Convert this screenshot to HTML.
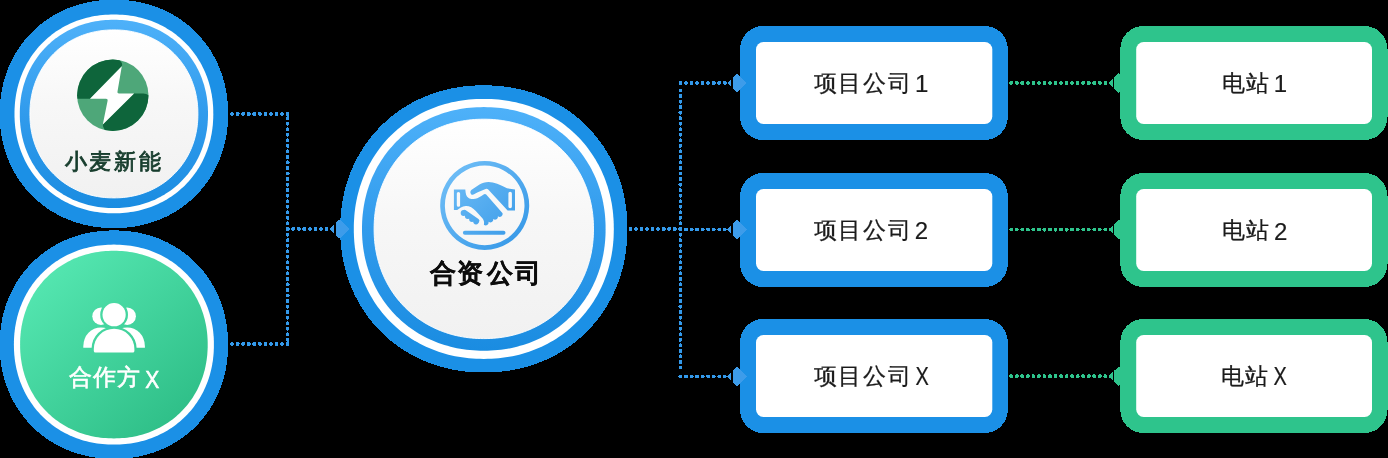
<!DOCTYPE html>
<html><head><meta charset="utf-8">
<style>
html,body{margin:0;padding:0;background:#000;width:1388px;height:458px;overflow:hidden}
svg{position:absolute;left:0;top:0;will-change:transform}
text{font-family:"Liberation Sans",sans-serif}
</style></head><body>
<svg width="1388" height="458" viewBox="0 0 1388 458">
<defs>
  <linearGradient id="lb" x1="0" y1="0" x2="0" y2="1">
    <stop offset="0" stop-color="#4eb1f9"/><stop offset="0.5" stop-color="#319bec"/><stop offset="1" stop-color="#1a8ce1"/>
  </linearGradient>
  <linearGradient id="gray" x1="0" y1="0" x2="0" y2="1">
    <stop offset="0" stop-color="#ffffff"/><stop offset="0.45" stop-color="#f7f7f7"/><stop offset="1" stop-color="#f1f1f1"/>
  </linearGradient>
  <linearGradient id="grn" x1="0.15" y1="0.1" x2="0.85" y2="0.9">
    <stop offset="0" stop-color="#54e6b0"/><stop offset="1" stop-color="#2fbf88"/>
  </linearGradient>
  <linearGradient id="icb" x1="0" y1="0" x2="1" y2="1">
    <stop offset="0" stop-color="#72c0f7"/><stop offset="1" stop-color="#3596e6"/>
  </linearGradient>
  <linearGradient id="icb2" gradientUnits="userSpaceOnUse" x1="440" y1="161" x2="529" y2="250">
    <stop offset="0" stop-color="#76c2f8"/><stop offset="1" stop-color="#3195e6"/>
  </linearGradient>
  <clipPath id="logoclip"><circle cx="112.8" cy="95.3" r="35.7"/></clipPath>
  <mask id="pmask" maskUnits="userSpaceOnUse" x="70" y="290" width="90" height="80">
    <rect x="70" y="290" width="90" height="80" fill="#fff"/>
    <circle cx="114.1" cy="314.7" r="11.6" fill="#000" stroke="#000" stroke-width="4.6"/>
    <path d="M93.8 349 A20.3 20.2 0 0 1 134.4 349 V352.6 H93.8 Z" fill="#000" stroke="#000" stroke-width="4.6"/>
  </mask>
</defs>

<!-- dotted connectors -->
<g fill="none" stroke="#3399ea" stroke-width="3.8" stroke-linecap="round" stroke-dasharray="0.2 5.336" shape-rendering="crispEdges">
  <path d="M287.6 114 H224"/>
  <path d="M287.6 344 H224"/>
  <path d="M287.6 229 V116"/>
  <path d="M287.6 229 V342"/>
  <path d="M287.6 229 H334"/>
  <path d="M680.4 229 H622"/>
  <path d="M680.4 229 V88"/>
  <path d="M680.4 229 V372"/>
  <path d="M680.4 83 H731"/>
  <path d="M680.4 229.5 H731"/>
  <path d="M680.4 376.5 H731"/>
</g>
<g fill="none" stroke="#2ec48c" stroke-width="3.8" stroke-linecap="round" stroke-dasharray="0.2 5.336" shape-rendering="crispEdges">
  <path d="M1005.6 83 H1112"/>
  <path d="M1005.6 229.6 H1112"/>
  <path d="M1005.6 376.1 H1112"/>
</g>

<!-- top-left circle -->
<path d="M228.10 113.90 L228.06 117.34 L227.95 120.59 L227.76 123.78 L227.50 126.92 L227.16 130.02 L226.75 133.09 L226.26 136.12 L225.70 139.12 L225.06 142.09 L224.36 145.03 L223.57 147.94 L222.72 150.82 L221.79 153.66 L220.80 156.47 L219.73 159.25 L218.59 161.98 L217.38 164.68 L216.11 167.34 L214.76 169.96 L213.35 172.54 L211.87 175.08 L210.33 177.57 L208.72 180.01 L207.05 182.41 L205.31 184.76 L203.51 187.06 L201.66 189.31 L199.74 191.50 L197.77 193.65 L195.74 195.74 L193.65 197.77 L191.50 199.74 L189.31 201.66 L187.06 203.51 L184.76 205.31 L182.41 207.05 L180.01 208.72 L177.57 210.33 L175.08 211.87 L172.54 213.35 L169.96 214.76 L167.34 216.11 L164.68 217.38 L161.98 218.59 L159.25 219.73 L156.47 220.80 L153.66 221.79 L150.82 222.72 L147.94 223.57 L145.03 224.36 L142.09 225.06 L139.12 225.70 L136.12 226.26 L133.09 226.75 L130.02 227.16 L126.92 227.50 L123.78 227.76 L120.59 227.95 L117.34 228.06 L113.90 228.10 L110.46 228.06 L107.21 227.95 L104.02 227.76 L100.88 227.50 L97.78 227.16 L94.71 226.75 L91.68 226.26 L88.68 225.70 L85.71 225.06 L82.77 224.36 L79.86 223.57 L76.98 222.72 L74.14 221.79 L71.33 220.80 L68.55 219.73 L65.82 218.59 L63.12 217.38 L60.46 216.11 L57.84 214.76 L55.26 213.35 L52.72 211.87 L50.23 210.33 L47.79 208.72 L45.39 207.05 L43.04 205.31 L40.74 203.51 L38.49 201.66 L36.30 199.74 L34.15 197.77 L32.06 195.74 L30.03 193.65 L28.06 191.50 L26.14 189.31 L24.29 187.06 L22.49 184.76 L20.75 182.41 L19.08 180.01 L17.47 177.57 L15.93 175.08 L14.45 172.54 L13.04 169.96 L11.69 167.34 L10.42 164.68 L9.21 161.98 L8.07 159.25 L7.00 156.47 L6.01 153.66 L5.08 150.82 L4.23 147.94 L3.44 145.03 L2.74 142.09 L2.10 139.12 L1.54 136.12 L1.05 133.09 L0.64 130.02 L0.30 126.92 L0.04 123.78 L-0.15 120.59 L-0.26 117.34 L-0.30 113.90 L-0.26 110.46 L-0.15 107.21 L0.04 104.02 L0.30 100.88 L0.64 97.78 L1.05 94.71 L1.54 91.68 L2.10 88.68 L2.74 85.71 L3.44 82.77 L4.23 79.86 L5.08 76.98 L6.01 74.14 L7.00 71.33 L8.07 68.55 L9.21 65.82 L10.42 63.12 L11.69 60.46 L13.04 57.84 L14.45 55.26 L15.93 52.72 L17.47 50.23 L19.08 47.79 L20.75 45.39 L22.49 43.04 L24.29 40.74 L26.14 38.49 L28.06 36.30 L30.03 34.15 L32.06 32.06 L34.15 30.03 L36.30 28.06 L38.49 26.14 L40.74 24.29 L43.04 22.49 L45.39 20.75 L47.79 19.08 L50.23 17.47 L52.72 15.93 L55.26 14.45 L57.84 13.04 L60.46 11.69 L63.12 10.42 L65.82 9.21 L68.55 8.07 L71.33 7.00 L74.14 6.01 L76.98 5.08 L79.86 4.23 L82.77 3.44 L85.71 2.74 L88.68 2.10 L91.68 1.54 L94.71 1.05 L97.78 0.64 L100.88 0.30 L104.02 0.04 L107.21 -0.15 L110.46 -0.26 L113.90 -0.30 L117.34 -0.26 L120.59 -0.15 L123.78 0.04 L126.92 0.30 L130.02 0.64 L133.09 1.05 L136.12 1.54 L139.12 2.10 L142.09 2.74 L145.03 3.44 L147.94 4.23 L150.82 5.08 L153.66 6.01 L156.47 7.00 L159.25 8.07 L161.98 9.21 L164.68 10.42 L167.34 11.69 L169.96 13.04 L172.54 14.45 L175.08 15.93 L177.57 17.47 L180.01 19.08 L182.41 20.75 L184.76 22.49 L187.06 24.29 L189.31 26.14 L191.50 28.06 L193.65 30.03 L195.74 32.06 L197.77 34.15 L199.74 36.30 L201.66 38.49 L203.51 40.74 L205.31 43.04 L207.05 45.39 L208.72 47.79 L210.33 50.23 L211.87 52.72 L213.35 55.26 L214.76 57.84 L216.11 60.46 L217.38 63.12 L218.59 65.82 L219.73 68.55 L220.80 71.33 L221.79 74.14 L222.72 76.98 L223.57 79.86 L224.36 82.77 L225.06 85.71 L225.70 88.68 L226.26 91.68 L226.75 94.71 L227.16 97.78 L227.50 100.88 L227.76 104.02 L227.95 107.21 L228.06 110.46Z" fill="#1b90e6" shape-rendering="crispEdges"/>
<path d="M213.30 113.90 L213.27 116.89 L213.17 119.73 L213.01 122.50 L212.78 125.23 L212.48 127.93 L212.12 130.60 L211.70 133.24 L211.21 135.85 L210.66 138.44 L210.04 141.00 L209.36 143.53 L208.62 146.04 L207.81 148.51 L206.94 150.96 L206.01 153.37 L205.02 155.75 L203.97 158.10 L202.86 160.42 L201.69 162.70 L200.46 164.94 L199.17 167.15 L197.83 169.32 L196.43 171.45 L194.97 173.53 L193.46 175.58 L191.90 177.58 L190.28 179.54 L188.62 181.45 L186.90 183.31 L185.13 185.13 L183.31 186.90 L181.45 188.62 L179.54 190.28 L177.58 191.90 L175.58 193.46 L173.53 194.97 L171.45 196.43 L169.32 197.83 L167.15 199.17 L164.94 200.46 L162.70 201.69 L160.42 202.86 L158.10 203.97 L155.75 205.02 L153.37 206.01 L150.96 206.94 L148.51 207.81 L146.04 208.62 L143.53 209.36 L141.00 210.04 L138.44 210.66 L135.85 211.21 L133.24 211.70 L130.60 212.12 L127.93 212.48 L125.23 212.78 L122.50 213.01 L119.73 213.17 L116.89 213.27 L113.90 213.30 L110.91 213.27 L108.07 213.17 L105.30 213.01 L102.57 212.78 L99.87 212.48 L97.20 212.12 L94.56 211.70 L91.95 211.21 L89.36 210.66 L86.80 210.04 L84.27 209.36 L81.76 208.62 L79.29 207.81 L76.84 206.94 L74.43 206.01 L72.05 205.02 L69.70 203.97 L67.38 202.86 L65.10 201.69 L62.86 200.46 L60.65 199.17 L58.48 197.83 L56.35 196.43 L54.27 194.97 L52.22 193.46 L50.22 191.90 L48.26 190.28 L46.35 188.62 L44.49 186.90 L42.67 185.13 L40.90 183.31 L39.18 181.45 L37.52 179.54 L35.90 177.58 L34.34 175.58 L32.83 173.53 L31.37 171.45 L29.97 169.32 L28.63 167.15 L27.34 164.94 L26.11 162.70 L24.94 160.42 L23.83 158.10 L22.78 155.75 L21.79 153.37 L20.86 150.96 L19.99 148.51 L19.18 146.04 L18.44 143.53 L17.76 141.00 L17.14 138.44 L16.59 135.85 L16.10 133.24 L15.68 130.60 L15.32 127.93 L15.02 125.23 L14.79 122.50 L14.63 119.73 L14.53 116.89 L14.50 113.90 L14.53 110.91 L14.63 108.07 L14.79 105.30 L15.02 102.57 L15.32 99.87 L15.68 97.20 L16.10 94.56 L16.59 91.95 L17.14 89.36 L17.76 86.80 L18.44 84.27 L19.18 81.76 L19.99 79.29 L20.86 76.84 L21.79 74.43 L22.78 72.05 L23.83 69.70 L24.94 67.38 L26.11 65.10 L27.34 62.86 L28.63 60.65 L29.97 58.48 L31.37 56.35 L32.83 54.27 L34.34 52.22 L35.90 50.22 L37.52 48.26 L39.18 46.35 L40.90 44.49 L42.67 42.67 L44.49 40.90 L46.35 39.18 L48.26 37.52 L50.22 35.90 L52.22 34.34 L54.27 32.83 L56.35 31.37 L58.48 29.97 L60.65 28.63 L62.86 27.34 L65.10 26.11 L67.38 24.94 L69.70 23.83 L72.05 22.78 L74.43 21.79 L76.84 20.86 L79.29 19.99 L81.76 19.18 L84.27 18.44 L86.80 17.76 L89.36 17.14 L91.95 16.59 L94.56 16.10 L97.20 15.68 L99.87 15.32 L102.57 15.02 L105.30 14.79 L108.07 14.63 L110.91 14.53 L113.90 14.50 L116.89 14.53 L119.73 14.63 L122.50 14.79 L125.23 15.02 L127.93 15.32 L130.60 15.68 L133.24 16.10 L135.85 16.59 L138.44 17.14 L141.00 17.76 L143.53 18.44 L146.04 19.18 L148.51 19.99 L150.96 20.86 L153.37 21.79 L155.75 22.78 L158.10 23.83 L160.42 24.94 L162.70 26.11 L164.94 27.34 L167.15 28.63 L169.32 29.97 L171.45 31.37 L173.53 32.83 L175.58 34.34 L177.58 35.90 L179.54 37.52 L181.45 39.18 L183.31 40.90 L185.13 42.67 L186.90 44.49 L188.62 46.35 L190.28 48.26 L191.90 50.22 L193.46 52.22 L194.97 54.27 L196.43 56.35 L197.83 58.48 L199.17 60.65 L200.46 62.86 L201.69 65.10 L202.86 67.38 L203.97 69.70 L205.02 72.05 L206.01 74.43 L206.94 76.84 L207.81 79.29 L208.62 81.76 L209.36 84.27 L210.04 86.80 L210.66 89.36 L211.21 91.95 L211.70 94.56 L212.12 97.20 L212.48 99.87 L212.78 102.57 L213.01 105.30 L213.17 108.07 L213.27 110.91Z" fill="#fff"/>
<path d="M208.00 113.90 L207.97 116.73 L207.88 119.42 L207.72 122.04 L207.50 124.63 L207.23 127.18 L206.89 129.71 L206.48 132.21 L206.02 134.68 L205.50 137.13 L204.91 139.55 L204.27 141.95 L203.57 144.32 L202.80 146.67 L201.98 148.98 L201.10 151.27 L200.16 153.52 L199.17 155.75 L198.12 157.94 L197.01 160.10 L195.85 162.22 L194.63 164.31 L193.35 166.36 L192.03 168.38 L190.65 170.35 L189.22 172.29 L187.74 174.18 L186.21 176.04 L184.63 177.85 L183.01 179.61 L181.33 181.33 L179.61 183.01 L177.85 184.63 L176.04 186.21 L174.18 187.74 L172.29 189.22 L170.35 190.65 L168.38 192.03 L166.36 193.35 L164.31 194.63 L162.22 195.85 L160.10 197.01 L157.94 198.12 L155.75 199.17 L153.52 200.16 L151.27 201.10 L148.98 201.98 L146.67 202.80 L144.32 203.57 L141.95 204.27 L139.55 204.91 L137.13 205.50 L134.68 206.02 L132.21 206.48 L129.71 206.89 L127.18 207.23 L124.63 207.50 L122.04 207.72 L119.42 207.88 L116.73 207.97 L113.90 208.00 L111.07 207.97 L108.38 207.88 L105.76 207.72 L103.17 207.50 L100.62 207.23 L98.09 206.89 L95.59 206.48 L93.12 206.02 L90.67 205.50 L88.25 204.91 L85.85 204.27 L83.48 203.57 L81.13 202.80 L78.82 201.98 L76.53 201.10 L74.28 200.16 L72.05 199.17 L69.86 198.12 L67.70 197.01 L65.58 195.85 L63.49 194.63 L61.44 193.35 L59.42 192.03 L57.45 190.65 L55.51 189.22 L53.62 187.74 L51.76 186.21 L49.95 184.63 L48.19 183.01 L46.47 181.33 L44.79 179.61 L43.17 177.85 L41.59 176.04 L40.06 174.18 L38.58 172.29 L37.15 170.35 L35.77 168.38 L34.45 166.36 L33.17 164.31 L31.95 162.22 L30.79 160.10 L29.68 157.94 L28.63 155.75 L27.64 153.52 L26.70 151.27 L25.82 148.98 L25.00 146.67 L24.23 144.32 L23.53 141.95 L22.89 139.55 L22.30 137.13 L21.78 134.68 L21.32 132.21 L20.91 129.71 L20.57 127.18 L20.30 124.63 L20.08 122.04 L19.92 119.42 L19.83 116.73 L19.80 113.90 L19.83 111.07 L19.92 108.38 L20.08 105.76 L20.30 103.17 L20.57 100.62 L20.91 98.09 L21.32 95.59 L21.78 93.12 L22.30 90.67 L22.89 88.25 L23.53 85.85 L24.23 83.48 L25.00 81.13 L25.82 78.82 L26.70 76.53 L27.64 74.28 L28.63 72.05 L29.68 69.86 L30.79 67.70 L31.95 65.58 L33.17 63.49 L34.45 61.44 L35.77 59.42 L37.15 57.45 L38.58 55.51 L40.06 53.62 L41.59 51.76 L43.17 49.95 L44.79 48.19 L46.47 46.47 L48.19 44.79 L49.95 43.17 L51.76 41.59 L53.62 40.06 L55.51 38.58 L57.45 37.15 L59.42 35.77 L61.44 34.45 L63.49 33.17 L65.58 31.95 L67.70 30.79 L69.86 29.68 L72.05 28.63 L74.28 27.64 L76.53 26.70 L78.82 25.82 L81.13 25.00 L83.48 24.23 L85.85 23.53 L88.25 22.89 L90.67 22.30 L93.12 21.78 L95.59 21.32 L98.09 20.91 L100.62 20.57 L103.17 20.30 L105.76 20.08 L108.38 19.92 L111.07 19.83 L113.90 19.80 L116.73 19.83 L119.42 19.92 L122.04 20.08 L124.63 20.30 L127.18 20.57 L129.71 20.91 L132.21 21.32 L134.68 21.78 L137.13 22.30 L139.55 22.89 L141.95 23.53 L144.32 24.23 L146.67 25.00 L148.98 25.82 L151.27 26.70 L153.52 27.64 L155.75 28.63 L157.94 29.68 L160.10 30.79 L162.22 31.95 L164.31 33.17 L166.36 34.45 L168.38 35.77 L170.35 37.15 L172.29 38.58 L174.18 40.06 L176.04 41.59 L177.85 43.17 L179.61 44.79 L181.33 46.47 L183.01 48.19 L184.63 49.95 L186.21 51.76 L187.74 53.62 L189.22 55.51 L190.65 57.45 L192.03 59.42 L193.35 61.44 L194.63 63.49 L195.85 65.58 L197.01 67.70 L198.12 69.86 L199.17 72.05 L200.16 74.28 L201.10 76.53 L201.98 78.82 L202.80 81.13 L203.57 83.48 L204.27 85.85 L204.91 88.25 L205.50 90.67 L206.02 93.12 L206.48 95.59 L206.89 98.09 L207.23 100.62 L207.50 103.17 L207.72 105.76 L207.88 108.38 L207.97 111.07Z" fill="url(#lb)"/>
<path d="M197.90 113.90 L197.87 116.43 L197.79 118.82 L197.65 121.17 L197.46 123.48 L197.21 125.76 L196.91 128.01 L196.55 130.24 L196.13 132.45 L195.67 134.64 L195.15 136.80 L194.57 138.94 L193.94 141.06 L193.26 143.15 L192.53 145.21 L191.74 147.26 L190.91 149.27 L190.02 151.25 L189.08 153.21 L188.09 155.14 L187.05 157.03 L185.96 158.90 L184.83 160.73 L183.64 162.53 L182.41 164.29 L181.14 166.02 L179.82 167.71 L178.45 169.37 L177.04 170.98 L175.59 172.56 L174.09 174.09 L172.56 175.59 L170.98 177.04 L169.37 178.45 L167.71 179.82 L166.02 181.14 L164.29 182.41 L162.53 183.64 L160.73 184.83 L158.90 185.96 L157.03 187.05 L155.14 188.09 L153.21 189.08 L151.25 190.02 L149.27 190.91 L147.26 191.74 L145.21 192.53 L143.15 193.26 L141.06 193.94 L138.94 194.57 L136.80 195.15 L134.64 195.67 L132.45 196.13 L130.24 196.55 L128.01 196.91 L125.76 197.21 L123.48 197.46 L121.17 197.65 L118.82 197.79 L116.43 197.87 L113.90 197.90 L111.37 197.87 L108.98 197.79 L106.63 197.65 L104.32 197.46 L102.04 197.21 L99.79 196.91 L97.56 196.55 L95.35 196.13 L93.16 195.67 L91.00 195.15 L88.86 194.57 L86.74 193.94 L84.65 193.26 L82.59 192.53 L80.54 191.74 L78.53 190.91 L76.55 190.02 L74.59 189.08 L72.66 188.09 L70.77 187.05 L68.90 185.96 L67.07 184.83 L65.27 183.64 L63.51 182.41 L61.78 181.14 L60.09 179.82 L58.43 178.45 L56.82 177.04 L55.24 175.59 L53.71 174.09 L52.21 172.56 L50.76 170.98 L49.35 169.37 L47.98 167.71 L46.66 166.02 L45.39 164.29 L44.16 162.53 L42.97 160.73 L41.84 158.90 L40.75 157.03 L39.71 155.14 L38.72 153.21 L37.78 151.25 L36.89 149.27 L36.06 147.26 L35.27 145.21 L34.54 143.15 L33.86 141.06 L33.23 138.94 L32.65 136.80 L32.13 134.64 L31.67 132.45 L31.25 130.24 L30.89 128.01 L30.59 125.76 L30.34 123.48 L30.15 121.17 L30.01 118.82 L29.93 116.43 L29.90 113.90 L29.93 111.37 L30.01 108.98 L30.15 106.63 L30.34 104.32 L30.59 102.04 L30.89 99.79 L31.25 97.56 L31.67 95.35 L32.13 93.16 L32.65 91.00 L33.23 88.86 L33.86 86.74 L34.54 84.65 L35.27 82.59 L36.06 80.54 L36.89 78.53 L37.78 76.55 L38.72 74.59 L39.71 72.66 L40.75 70.77 L41.84 68.90 L42.97 67.07 L44.16 65.27 L45.39 63.51 L46.66 61.78 L47.98 60.09 L49.35 58.43 L50.76 56.82 L52.21 55.24 L53.71 53.71 L55.24 52.21 L56.82 50.76 L58.43 49.35 L60.09 47.98 L61.78 46.66 L63.51 45.39 L65.27 44.16 L67.07 42.97 L68.90 41.84 L70.77 40.75 L72.66 39.71 L74.59 38.72 L76.55 37.78 L78.53 36.89 L80.54 36.06 L82.59 35.27 L84.65 34.54 L86.74 33.86 L88.86 33.23 L91.00 32.65 L93.16 32.13 L95.35 31.67 L97.56 31.25 L99.79 30.89 L102.04 30.59 L104.32 30.34 L106.63 30.15 L108.98 30.01 L111.37 29.93 L113.90 29.90 L116.43 29.93 L118.82 30.01 L121.17 30.15 L123.48 30.34 L125.76 30.59 L128.01 30.89 L130.24 31.25 L132.45 31.67 L134.64 32.13 L136.80 32.65 L138.94 33.23 L141.06 33.86 L143.15 34.54 L145.21 35.27 L147.26 36.06 L149.27 36.89 L151.25 37.78 L153.21 38.72 L155.14 39.71 L157.03 40.75 L158.90 41.84 L160.73 42.97 L162.53 44.16 L164.29 45.39 L166.02 46.66 L167.71 47.98 L169.37 49.35 L170.98 50.76 L172.56 52.21 L174.09 53.71 L175.59 55.24 L177.04 56.82 L178.45 58.43 L179.82 60.09 L181.14 61.78 L182.41 63.51 L183.64 65.27 L184.83 67.07 L185.96 68.90 L187.05 70.77 L188.09 72.66 L189.08 74.59 L190.02 76.55 L190.91 78.53 L191.74 80.54 L192.53 82.59 L193.26 84.65 L193.94 86.74 L194.57 88.86 L195.15 91.00 L195.67 93.16 L196.13 95.35 L196.55 97.56 L196.91 99.79 L197.21 102.04 L197.46 104.32 L197.65 106.63 L197.79 108.98 L197.87 111.37Z" fill="url(#gray)" stroke="#fff" stroke-width="0.9"/>

<!-- bottom-left circle -->
<path d="M228.10 344.60 L228.06 348.04 L227.95 351.29 L227.76 354.48 L227.50 357.62 L227.16 360.72 L226.75 363.79 L226.26 366.82 L225.70 369.82 L225.06 372.79 L224.36 375.73 L223.57 378.64 L222.72 381.52 L221.79 384.36 L220.80 387.17 L219.73 389.95 L218.59 392.68 L217.38 395.38 L216.11 398.04 L214.76 400.66 L213.35 403.24 L211.87 405.78 L210.33 408.27 L208.72 410.71 L207.05 413.11 L205.31 415.46 L203.51 417.76 L201.66 420.01 L199.74 422.20 L197.77 424.35 L195.74 426.44 L193.65 428.47 L191.50 430.44 L189.31 432.36 L187.06 434.21 L184.76 436.01 L182.41 437.75 L180.01 439.42 L177.57 441.03 L175.08 442.57 L172.54 444.05 L169.96 445.46 L167.34 446.81 L164.68 448.08 L161.98 449.29 L159.25 450.43 L156.47 451.50 L153.66 452.49 L150.82 453.42 L147.94 454.27 L145.03 455.06 L142.09 455.76 L139.12 456.40 L136.12 456.96 L133.09 457.45 L130.02 457.86 L126.92 458.20 L123.78 458.46 L120.59 458.65 L117.34 458.76 L113.90 458.80 L110.46 458.76 L107.21 458.65 L104.02 458.46 L100.88 458.20 L97.78 457.86 L94.71 457.45 L91.68 456.96 L88.68 456.40 L85.71 455.76 L82.77 455.06 L79.86 454.27 L76.98 453.42 L74.14 452.49 L71.33 451.50 L68.55 450.43 L65.82 449.29 L63.12 448.08 L60.46 446.81 L57.84 445.46 L55.26 444.05 L52.72 442.57 L50.23 441.03 L47.79 439.42 L45.39 437.75 L43.04 436.01 L40.74 434.21 L38.49 432.36 L36.30 430.44 L34.15 428.47 L32.06 426.44 L30.03 424.35 L28.06 422.20 L26.14 420.01 L24.29 417.76 L22.49 415.46 L20.75 413.11 L19.08 410.71 L17.47 408.27 L15.93 405.78 L14.45 403.24 L13.04 400.66 L11.69 398.04 L10.42 395.38 L9.21 392.68 L8.07 389.95 L7.00 387.17 L6.01 384.36 L5.08 381.52 L4.23 378.64 L3.44 375.73 L2.74 372.79 L2.10 369.82 L1.54 366.82 L1.05 363.79 L0.64 360.72 L0.30 357.62 L0.04 354.48 L-0.15 351.29 L-0.26 348.04 L-0.30 344.60 L-0.26 341.16 L-0.15 337.91 L0.04 334.72 L0.30 331.58 L0.64 328.48 L1.05 325.41 L1.54 322.38 L2.10 319.38 L2.74 316.41 L3.44 313.47 L4.23 310.56 L5.08 307.68 L6.01 304.84 L7.00 302.03 L8.07 299.25 L9.21 296.52 L10.42 293.82 L11.69 291.16 L13.04 288.54 L14.45 285.96 L15.93 283.42 L17.47 280.93 L19.08 278.49 L20.75 276.09 L22.49 273.74 L24.29 271.44 L26.14 269.19 L28.06 267.00 L30.03 264.85 L32.06 262.76 L34.15 260.73 L36.30 258.76 L38.49 256.84 L40.74 254.99 L43.04 253.19 L45.39 251.45 L47.79 249.78 L50.23 248.17 L52.72 246.63 L55.26 245.15 L57.84 243.74 L60.46 242.39 L63.12 241.12 L65.82 239.91 L68.55 238.77 L71.33 237.70 L74.14 236.71 L76.98 235.78 L79.86 234.93 L82.77 234.14 L85.71 233.44 L88.68 232.80 L91.68 232.24 L94.71 231.75 L97.78 231.34 L100.88 231.00 L104.02 230.74 L107.21 230.55 L110.46 230.44 L113.90 230.40 L117.34 230.44 L120.59 230.55 L123.78 230.74 L126.92 231.00 L130.02 231.34 L133.09 231.75 L136.12 232.24 L139.12 232.80 L142.09 233.44 L145.03 234.14 L147.94 234.93 L150.82 235.78 L153.66 236.71 L156.47 237.70 L159.25 238.77 L161.98 239.91 L164.68 241.12 L167.34 242.39 L169.96 243.74 L172.54 245.15 L175.08 246.63 L177.57 248.17 L180.01 249.78 L182.41 251.45 L184.76 253.19 L187.06 254.99 L189.31 256.84 L191.50 258.76 L193.65 260.73 L195.74 262.76 L197.77 264.85 L199.74 267.00 L201.66 269.19 L203.51 271.44 L205.31 273.74 L207.05 276.09 L208.72 278.49 L210.33 280.93 L211.87 283.42 L213.35 285.96 L214.76 288.54 L216.11 291.16 L217.38 293.82 L218.59 296.52 L219.73 299.25 L220.80 302.03 L221.79 304.84 L222.72 307.68 L223.57 310.56 L224.36 313.47 L225.06 316.41 L225.70 319.38 L226.26 322.38 L226.75 325.41 L227.16 328.48 L227.50 331.58 L227.76 334.72 L227.95 337.91 L228.06 341.16Z" fill="#1b90e6" shape-rendering="crispEdges"/>
<path d="M213.90 344.60 L213.87 347.61 L213.77 350.46 L213.60 353.25 L213.37 356.00 L213.08 358.72 L212.72 361.40 L212.29 364.06 L211.80 366.69 L211.24 369.29 L210.62 371.86 L209.94 374.41 L209.19 376.93 L208.38 379.42 L207.51 381.88 L206.57 384.31 L205.57 386.71 L204.52 389.07 L203.40 391.40 L202.22 393.69 L200.98 395.95 L199.69 398.17 L198.34 400.35 L196.93 402.49 L195.46 404.59 L193.94 406.65 L192.37 408.66 L190.75 410.63 L189.07 412.56 L187.34 414.43 L185.56 416.26 L183.73 418.04 L181.86 419.77 L179.93 421.45 L177.96 423.07 L175.95 424.64 L173.89 426.16 L171.79 427.63 L169.65 429.04 L167.47 430.39 L165.25 431.68 L162.99 432.92 L160.70 434.10 L158.37 435.22 L156.01 436.27 L153.61 437.27 L151.18 438.21 L148.72 439.08 L146.23 439.89 L143.71 440.64 L141.16 441.32 L138.59 441.94 L135.99 442.50 L133.36 442.99 L130.70 443.42 L128.02 443.78 L125.30 444.07 L122.55 444.30 L119.76 444.47 L116.91 444.57 L113.90 444.60 L110.89 444.57 L108.04 444.47 L105.25 444.30 L102.50 444.07 L99.78 443.78 L97.10 443.42 L94.44 442.99 L91.81 442.50 L89.21 441.94 L86.64 441.32 L84.09 440.64 L81.57 439.89 L79.08 439.08 L76.62 438.21 L74.19 437.27 L71.79 436.27 L69.43 435.22 L67.10 434.10 L64.81 432.92 L62.55 431.68 L60.33 430.39 L58.15 429.04 L56.01 427.63 L53.91 426.16 L51.85 424.64 L49.84 423.07 L47.87 421.45 L45.94 419.77 L44.07 418.04 L42.24 416.26 L40.46 414.43 L38.73 412.56 L37.05 410.63 L35.43 408.66 L33.86 406.65 L32.34 404.59 L30.87 402.49 L29.46 400.35 L28.11 398.17 L26.82 395.95 L25.58 393.69 L24.40 391.40 L23.28 389.07 L22.23 386.71 L21.23 384.31 L20.29 381.88 L19.42 379.42 L18.61 376.93 L17.86 374.41 L17.18 371.86 L16.56 369.29 L16.00 366.69 L15.51 364.06 L15.08 361.40 L14.72 358.72 L14.43 356.00 L14.20 353.25 L14.03 350.46 L13.93 347.61 L13.90 344.60 L13.93 341.59 L14.03 338.74 L14.20 335.95 L14.43 333.20 L14.72 330.48 L15.08 327.80 L15.51 325.14 L16.00 322.51 L16.56 319.91 L17.18 317.34 L17.86 314.79 L18.61 312.27 L19.42 309.78 L20.29 307.32 L21.23 304.89 L22.23 302.49 L23.28 300.13 L24.40 297.80 L25.58 295.51 L26.82 293.25 L28.11 291.03 L29.46 288.85 L30.87 286.71 L32.34 284.61 L33.86 282.55 L35.43 280.54 L37.05 278.57 L38.73 276.64 L40.46 274.77 L42.24 272.94 L44.07 271.16 L45.94 269.43 L47.87 267.75 L49.84 266.13 L51.85 264.56 L53.91 263.04 L56.01 261.57 L58.15 260.16 L60.33 258.81 L62.55 257.52 L64.81 256.28 L67.10 255.10 L69.43 253.98 L71.79 252.93 L74.19 251.93 L76.62 250.99 L79.08 250.12 L81.57 249.31 L84.09 248.56 L86.64 247.88 L89.21 247.26 L91.81 246.70 L94.44 246.21 L97.10 245.78 L99.78 245.42 L102.50 245.13 L105.25 244.90 L108.04 244.73 L110.89 244.63 L113.90 244.60 L116.91 244.63 L119.76 244.73 L122.55 244.90 L125.30 245.13 L128.02 245.42 L130.70 245.78 L133.36 246.21 L135.99 246.70 L138.59 247.26 L141.16 247.88 L143.71 248.56 L146.23 249.31 L148.72 250.12 L151.18 250.99 L153.61 251.93 L156.01 252.93 L158.37 253.98 L160.70 255.10 L162.99 256.28 L165.25 257.52 L167.47 258.81 L169.65 260.16 L171.79 261.57 L173.89 263.04 L175.95 264.56 L177.96 266.13 L179.93 267.75 L181.86 269.43 L183.73 271.16 L185.56 272.94 L187.34 274.77 L189.07 276.64 L190.75 278.57 L192.37 280.54 L193.94 282.55 L195.46 284.61 L196.93 286.71 L198.34 288.85 L199.69 291.03 L200.98 293.25 L202.22 295.51 L203.40 297.80 L204.52 300.13 L205.57 302.49 L206.57 304.89 L207.51 307.32 L208.38 309.78 L209.19 312.27 L209.94 314.79 L210.62 317.34 L211.24 319.91 L211.80 322.51 L212.29 325.14 L212.72 327.80 L213.08 330.48 L213.37 333.20 L213.60 335.95 L213.77 338.74 L213.87 341.59Z" fill="#fff"/>
<path d="M207.70 344.60 L207.67 347.42 L207.58 350.10 L207.42 352.72 L207.21 355.29 L206.93 357.84 L206.59 360.36 L206.19 362.85 L205.73 365.32 L205.21 367.76 L204.62 370.17 L203.98 372.56 L203.28 374.93 L202.52 377.26 L201.70 379.57 L200.82 381.85 L199.89 384.10 L198.90 386.31 L197.85 388.50 L196.74 390.65 L195.58 392.77 L194.37 394.85 L193.10 396.90 L191.78 398.90 L190.41 400.87 L188.98 402.80 L187.51 404.69 L185.98 406.54 L184.41 408.34 L182.79 410.10 L181.12 411.82 L179.40 413.49 L177.64 415.11 L175.84 416.68 L173.99 418.21 L172.10 419.68 L170.17 421.11 L168.20 422.48 L166.20 423.80 L164.15 425.07 L162.07 426.28 L159.95 427.44 L157.80 428.55 L155.61 429.60 L153.40 430.59 L151.15 431.52 L148.87 432.40 L146.56 433.22 L144.23 433.98 L141.86 434.68 L139.47 435.32 L137.06 435.91 L134.62 436.43 L132.15 436.89 L129.66 437.29 L127.14 437.63 L124.59 437.91 L122.02 438.12 L119.40 438.28 L116.72 438.37 L113.90 438.40 L111.08 438.37 L108.40 438.28 L105.78 438.12 L103.21 437.91 L100.66 437.63 L98.14 437.29 L95.65 436.89 L93.18 436.43 L90.74 435.91 L88.33 435.32 L85.94 434.68 L83.57 433.98 L81.24 433.22 L78.93 432.40 L76.65 431.52 L74.40 430.59 L72.19 429.60 L70.00 428.55 L67.85 427.44 L65.73 426.28 L63.65 425.07 L61.60 423.80 L59.60 422.48 L57.63 421.11 L55.70 419.68 L53.81 418.21 L51.96 416.68 L50.16 415.11 L48.40 413.49 L46.68 411.82 L45.01 410.10 L43.39 408.34 L41.82 406.54 L40.29 404.69 L38.82 402.80 L37.39 400.87 L36.02 398.90 L34.70 396.90 L33.43 394.85 L32.22 392.77 L31.06 390.65 L29.95 388.50 L28.90 386.31 L27.91 384.10 L26.98 381.85 L26.10 379.57 L25.28 377.26 L24.52 374.93 L23.82 372.56 L23.18 370.17 L22.59 367.76 L22.07 365.32 L21.61 362.85 L21.21 360.36 L20.87 357.84 L20.59 355.29 L20.38 352.72 L20.22 350.10 L20.13 347.42 L20.10 344.60 L20.13 341.78 L20.22 339.10 L20.38 336.48 L20.59 333.91 L20.87 331.36 L21.21 328.84 L21.61 326.35 L22.07 323.88 L22.59 321.44 L23.18 319.03 L23.82 316.64 L24.52 314.27 L25.28 311.94 L26.10 309.63 L26.98 307.35 L27.91 305.10 L28.90 302.89 L29.95 300.70 L31.06 298.55 L32.22 296.43 L33.43 294.35 L34.70 292.30 L36.02 290.30 L37.39 288.33 L38.82 286.40 L40.29 284.51 L41.82 282.66 L43.39 280.86 L45.01 279.10 L46.68 277.38 L48.40 275.71 L50.16 274.09 L51.96 272.52 L53.81 270.99 L55.70 269.52 L57.63 268.09 L59.60 266.72 L61.60 265.40 L63.65 264.13 L65.73 262.92 L67.85 261.76 L70.00 260.65 L72.19 259.60 L74.40 258.61 L76.65 257.68 L78.93 256.80 L81.24 255.98 L83.57 255.22 L85.94 254.52 L88.33 253.88 L90.74 253.29 L93.18 252.77 L95.65 252.31 L98.14 251.91 L100.66 251.57 L103.21 251.29 L105.78 251.08 L108.40 250.92 L111.08 250.83 L113.90 250.80 L116.72 250.83 L119.40 250.92 L122.02 251.08 L124.59 251.29 L127.14 251.57 L129.66 251.91 L132.15 252.31 L134.62 252.77 L137.06 253.29 L139.47 253.88 L141.86 254.52 L144.23 255.22 L146.56 255.98 L148.87 256.80 L151.15 257.68 L153.40 258.61 L155.61 259.60 L157.80 260.65 L159.95 261.76 L162.07 262.92 L164.15 264.13 L166.20 265.40 L168.20 266.72 L170.17 268.09 L172.10 269.52 L173.99 270.99 L175.84 272.52 L177.64 274.09 L179.40 275.71 L181.12 277.38 L182.79 279.10 L184.41 280.86 L185.98 282.66 L187.51 284.51 L188.98 286.40 L190.41 288.33 L191.78 290.30 L193.10 292.30 L194.37 294.35 L195.58 296.43 L196.74 298.55 L197.85 300.70 L198.90 302.89 L199.89 305.10 L200.82 307.35 L201.70 309.63 L202.52 311.94 L203.28 314.27 L203.98 316.64 L204.62 319.03 L205.21 321.44 L205.73 323.88 L206.19 326.35 L206.59 328.84 L206.93 331.36 L207.21 333.91 L207.42 336.48 L207.58 339.10 L207.67 341.78Z" fill="url(#grn)"/>

<!-- center circle -->
<path d="M627.40 228.90 L627.35 233.22 L627.21 237.32 L626.97 241.33 L626.64 245.27 L626.22 249.17 L625.70 253.03 L625.09 256.84 L624.38 260.62 L623.58 264.35 L622.69 268.05 L621.71 271.71 L620.64 275.33 L619.47 278.90 L618.22 282.43 L616.87 285.92 L615.44 289.36 L613.92 292.76 L612.32 296.10 L610.63 299.40 L608.85 302.64 L606.99 305.83 L605.05 308.96 L603.03 312.03 L600.93 315.05 L598.74 318.00 L596.49 320.89 L594.15 323.72 L591.74 326.48 L589.26 329.18 L586.70 331.80 L584.08 334.36 L581.38 336.84 L578.62 339.25 L575.79 341.59 L572.90 343.84 L569.95 346.03 L566.93 348.13 L563.86 350.15 L560.73 352.09 L557.54 353.95 L554.30 355.73 L551.00 357.42 L547.66 359.02 L544.26 360.54 L540.82 361.97 L537.33 363.32 L533.80 364.57 L530.23 365.74 L526.61 366.81 L522.95 367.79 L519.25 368.68 L515.52 369.48 L511.74 370.19 L507.93 370.80 L504.07 371.32 L500.17 371.74 L496.23 372.07 L492.22 372.31 L488.12 372.45 L483.80 372.50 L479.48 372.45 L475.38 372.31 L471.37 372.07 L467.43 371.74 L463.53 371.32 L459.67 370.80 L455.86 370.19 L452.08 369.48 L448.35 368.68 L444.65 367.79 L440.99 366.81 L437.37 365.74 L433.80 364.57 L430.27 363.32 L426.78 361.97 L423.34 360.54 L419.94 359.02 L416.60 357.42 L413.30 355.73 L410.06 353.95 L406.87 352.09 L403.74 350.15 L400.67 348.13 L397.65 346.03 L394.70 343.84 L391.81 341.59 L388.98 339.25 L386.22 336.84 L383.52 334.36 L380.90 331.80 L378.34 329.18 L375.86 326.48 L373.45 323.72 L371.11 320.89 L368.86 318.00 L366.67 315.05 L364.57 312.03 L362.55 308.96 L360.61 305.83 L358.75 302.64 L356.97 299.40 L355.28 296.10 L353.68 292.76 L352.16 289.36 L350.73 285.92 L349.38 282.43 L348.13 278.90 L346.96 275.33 L345.89 271.71 L344.91 268.05 L344.02 264.35 L343.22 260.62 L342.51 256.84 L341.90 253.03 L341.38 249.17 L340.96 245.27 L340.63 241.33 L340.39 237.32 L340.25 233.22 L340.20 228.90 L340.25 224.58 L340.39 220.48 L340.63 216.47 L340.96 212.53 L341.38 208.63 L341.90 204.77 L342.51 200.96 L343.22 197.18 L344.02 193.45 L344.91 189.75 L345.89 186.09 L346.96 182.47 L348.13 178.90 L349.38 175.37 L350.73 171.88 L352.16 168.44 L353.68 165.04 L355.28 161.70 L356.97 158.40 L358.75 155.16 L360.61 151.97 L362.55 148.84 L364.57 145.77 L366.67 142.75 L368.86 139.80 L371.11 136.91 L373.45 134.08 L375.86 131.32 L378.34 128.62 L380.90 126.00 L383.52 123.44 L386.22 120.96 L388.98 118.55 L391.81 116.21 L394.70 113.96 L397.65 111.77 L400.67 109.67 L403.74 107.65 L406.87 105.71 L410.06 103.85 L413.30 102.07 L416.60 100.38 L419.94 98.78 L423.34 97.26 L426.78 95.83 L430.27 94.48 L433.80 93.23 L437.37 92.06 L440.99 90.99 L444.65 90.01 L448.35 89.12 L452.08 88.32 L455.86 87.61 L459.67 87.00 L463.53 86.48 L467.43 86.06 L471.37 85.73 L475.38 85.49 L479.48 85.35 L483.80 85.30 L488.12 85.35 L492.22 85.49 L496.23 85.73 L500.17 86.06 L504.07 86.48 L507.93 87.00 L511.74 87.61 L515.52 88.32 L519.25 89.12 L522.95 90.01 L526.61 90.99 L530.23 92.06 L533.80 93.23 L537.33 94.48 L540.82 95.83 L544.26 97.26 L547.66 98.78 L551.00 100.38 L554.30 102.07 L557.54 103.85 L560.73 105.71 L563.86 107.65 L566.93 109.67 L569.95 111.77 L572.90 113.96 L575.79 116.21 L578.62 118.55 L581.38 120.96 L584.08 123.44 L586.70 126.00 L589.26 128.62 L591.74 131.32 L594.15 134.08 L596.49 136.91 L598.74 139.80 L600.93 142.75 L603.03 145.77 L605.05 148.84 L606.99 151.97 L608.85 155.16 L610.63 158.40 L612.32 161.70 L613.92 165.04 L615.44 168.44 L616.87 171.88 L618.22 175.37 L619.47 178.90 L620.64 182.47 L621.71 186.09 L622.69 189.75 L623.58 193.45 L624.38 197.18 L625.09 200.96 L625.70 204.77 L626.22 208.63 L626.64 212.53 L626.97 216.47 L627.21 220.48 L627.35 224.58Z" fill="#1b90e6" shape-rendering="crispEdges"/>
<path d="M613.80 228.90 L613.76 232.81 L613.63 236.52 L613.41 240.15 L613.12 243.72 L612.73 247.25 L612.26 250.74 L611.71 254.19 L611.07 257.61 L610.34 260.99 L609.54 264.34 L608.65 267.65 L607.68 270.93 L606.62 274.17 L605.49 277.36 L604.27 280.52 L602.97 283.64 L601.60 286.71 L600.15 289.74 L598.62 292.72 L597.01 295.66 L595.32 298.54 L593.57 301.38 L591.74 304.16 L589.83 306.89 L587.86 309.56 L585.81 312.18 L583.70 314.74 L581.52 317.24 L579.27 319.68 L576.96 322.06 L574.58 324.37 L572.14 326.62 L569.64 328.80 L567.08 330.91 L564.46 332.96 L561.79 334.93 L559.06 336.84 L556.28 338.67 L553.44 340.42 L550.56 342.11 L547.62 343.72 L544.64 345.25 L541.61 346.70 L538.54 348.07 L535.42 349.37 L532.26 350.59 L529.07 351.72 L525.83 352.78 L522.55 353.75 L519.24 354.64 L515.89 355.44 L512.51 356.17 L509.09 356.81 L505.64 357.36 L502.15 357.83 L498.62 358.22 L495.05 358.51 L491.42 358.73 L487.71 358.86 L483.80 358.90 L479.89 358.86 L476.18 358.73 L472.55 358.51 L468.98 358.22 L465.45 357.83 L461.96 357.36 L458.51 356.81 L455.09 356.17 L451.71 355.44 L448.36 354.64 L445.05 353.75 L441.77 352.78 L438.53 351.72 L435.34 350.59 L432.18 349.37 L429.06 348.07 L425.99 346.70 L422.96 345.25 L419.98 343.72 L417.04 342.11 L414.16 340.42 L411.32 338.67 L408.54 336.84 L405.81 334.93 L403.14 332.96 L400.52 330.91 L397.96 328.80 L395.46 326.62 L393.02 324.37 L390.64 322.06 L388.33 319.68 L386.08 317.24 L383.90 314.74 L381.79 312.18 L379.74 309.56 L377.77 306.89 L375.86 304.16 L374.03 301.38 L372.28 298.54 L370.59 295.66 L368.98 292.72 L367.45 289.74 L366.00 286.71 L364.63 283.64 L363.33 280.52 L362.11 277.36 L360.98 274.17 L359.92 270.93 L358.95 267.65 L358.06 264.34 L357.26 260.99 L356.53 257.61 L355.89 254.19 L355.34 250.74 L354.87 247.25 L354.48 243.72 L354.19 240.15 L353.97 236.52 L353.84 232.81 L353.80 228.90 L353.84 224.99 L353.97 221.28 L354.19 217.65 L354.48 214.08 L354.87 210.55 L355.34 207.06 L355.89 203.61 L356.53 200.19 L357.26 196.81 L358.06 193.46 L358.95 190.15 L359.92 186.87 L360.98 183.63 L362.11 180.44 L363.33 177.28 L364.63 174.16 L366.00 171.09 L367.45 168.06 L368.98 165.08 L370.59 162.14 L372.28 159.26 L374.03 156.42 L375.86 153.64 L377.77 150.91 L379.74 148.24 L381.79 145.62 L383.90 143.06 L386.08 140.56 L388.33 138.12 L390.64 135.74 L393.02 133.43 L395.46 131.18 L397.96 129.00 L400.52 126.89 L403.14 124.84 L405.81 122.87 L408.54 120.96 L411.32 119.13 L414.16 117.38 L417.04 115.69 L419.98 114.08 L422.96 112.55 L425.99 111.10 L429.06 109.73 L432.18 108.43 L435.34 107.21 L438.53 106.08 L441.77 105.02 L445.05 104.05 L448.36 103.16 L451.71 102.36 L455.09 101.63 L458.51 100.99 L461.96 100.44 L465.45 99.97 L468.98 99.58 L472.55 99.29 L476.18 99.07 L479.89 98.94 L483.80 98.90 L487.71 98.94 L491.42 99.07 L495.05 99.29 L498.62 99.58 L502.15 99.97 L505.64 100.44 L509.09 100.99 L512.51 101.63 L515.89 102.36 L519.24 103.16 L522.55 104.05 L525.83 105.02 L529.07 106.08 L532.26 107.21 L535.42 108.43 L538.54 109.73 L541.61 111.10 L544.64 112.55 L547.62 114.08 L550.56 115.69 L553.44 117.38 L556.28 119.13 L559.06 120.96 L561.79 122.87 L564.46 124.84 L567.08 126.89 L569.64 129.00 L572.14 131.18 L574.58 133.43 L576.96 135.74 L579.27 138.12 L581.52 140.56 L583.70 143.06 L585.81 145.62 L587.86 148.24 L589.83 150.91 L591.74 153.64 L593.57 156.42 L595.32 159.26 L597.01 162.14 L598.62 165.08 L600.15 168.06 L601.60 171.09 L602.97 174.16 L604.27 177.28 L605.49 180.44 L606.62 183.63 L607.68 186.87 L608.65 190.15 L609.54 193.46 L610.34 196.81 L611.07 200.19 L611.71 203.61 L612.26 207.06 L612.73 210.55 L613.12 214.08 L613.41 217.65 L613.63 221.28 L613.76 224.99Z" fill="#fff"/>
<path d="M605.60 228.90 L605.56 232.57 L605.44 236.04 L605.24 239.44 L604.96 242.79 L604.60 246.09 L604.16 249.36 L603.64 252.60 L603.04 255.80 L602.36 258.97 L601.61 262.11 L600.77 265.21 L599.86 268.28 L598.87 271.31 L597.81 274.31 L596.67 277.27 L595.46 280.18 L594.17 283.06 L592.81 285.90 L591.37 288.70 L589.87 291.45 L588.29 294.15 L586.64 296.81 L584.93 299.41 L583.14 301.97 L581.29 304.48 L579.38 306.93 L577.40 309.33 L575.35 311.67 L573.25 313.95 L571.08 316.18 L568.85 318.35 L566.57 320.45 L564.23 322.50 L561.83 324.48 L559.38 326.39 L556.87 328.24 L554.31 330.03 L551.71 331.74 L549.05 333.39 L546.35 334.97 L543.60 336.47 L540.80 337.91 L537.96 339.27 L535.08 340.56 L532.17 341.77 L529.21 342.91 L526.21 343.97 L523.18 344.96 L520.11 345.87 L517.01 346.71 L513.87 347.46 L510.70 348.14 L507.50 348.74 L504.26 349.26 L500.99 349.70 L497.69 350.06 L494.34 350.34 L490.94 350.54 L487.47 350.66 L483.80 350.70 L480.13 350.66 L476.66 350.54 L473.26 350.34 L469.91 350.06 L466.61 349.70 L463.34 349.26 L460.10 348.74 L456.90 348.14 L453.73 347.46 L450.59 346.71 L447.49 345.87 L444.42 344.96 L441.39 343.97 L438.39 342.91 L435.43 341.77 L432.52 340.56 L429.64 339.27 L426.80 337.91 L424.00 336.47 L421.25 334.97 L418.55 333.39 L415.89 331.74 L413.29 330.03 L410.73 328.24 L408.22 326.39 L405.77 324.48 L403.37 322.50 L401.03 320.45 L398.75 318.35 L396.52 316.18 L394.35 313.95 L392.25 311.67 L390.20 309.33 L388.22 306.93 L386.31 304.48 L384.46 301.97 L382.67 299.41 L380.96 296.81 L379.31 294.15 L377.73 291.45 L376.23 288.70 L374.79 285.90 L373.43 283.06 L372.14 280.18 L370.93 277.27 L369.79 274.31 L368.73 271.31 L367.74 268.28 L366.83 265.21 L365.99 262.11 L365.24 258.97 L364.56 255.80 L363.96 252.60 L363.44 249.36 L363.00 246.09 L362.64 242.79 L362.36 239.44 L362.16 236.04 L362.04 232.57 L362.00 228.90 L362.04 225.23 L362.16 221.76 L362.36 218.36 L362.64 215.01 L363.00 211.71 L363.44 208.44 L363.96 205.20 L364.56 202.00 L365.24 198.83 L365.99 195.69 L366.83 192.59 L367.74 189.52 L368.73 186.49 L369.79 183.49 L370.93 180.53 L372.14 177.62 L373.43 174.74 L374.79 171.90 L376.23 169.10 L377.73 166.35 L379.31 163.65 L380.96 160.99 L382.67 158.39 L384.46 155.83 L386.31 153.32 L388.22 150.87 L390.20 148.47 L392.25 146.13 L394.35 143.85 L396.52 141.62 L398.75 139.45 L401.03 137.35 L403.37 135.30 L405.77 133.32 L408.22 131.41 L410.73 129.56 L413.29 127.77 L415.89 126.06 L418.55 124.41 L421.25 122.83 L424.00 121.33 L426.80 119.89 L429.64 118.53 L432.52 117.24 L435.43 116.03 L438.39 114.89 L441.39 113.83 L444.42 112.84 L447.49 111.93 L450.59 111.09 L453.73 110.34 L456.90 109.66 L460.10 109.06 L463.34 108.54 L466.61 108.10 L469.91 107.74 L473.26 107.46 L476.66 107.26 L480.13 107.14 L483.80 107.10 L487.47 107.14 L490.94 107.26 L494.34 107.46 L497.69 107.74 L500.99 108.10 L504.26 108.54 L507.50 109.06 L510.70 109.66 L513.87 110.34 L517.01 111.09 L520.11 111.93 L523.18 112.84 L526.21 113.83 L529.21 114.89 L532.17 116.03 L535.08 117.24 L537.96 118.53 L540.80 119.89 L543.60 121.33 L546.35 122.83 L549.05 124.41 L551.71 126.06 L554.31 127.77 L556.87 129.56 L559.38 131.41 L561.83 133.32 L564.23 135.30 L566.57 137.35 L568.85 139.45 L571.08 141.62 L573.25 143.85 L575.35 146.13 L577.40 148.47 L579.38 150.87 L581.29 153.32 L583.14 155.83 L584.93 158.39 L586.64 160.99 L588.29 163.65 L589.87 166.35 L591.37 169.10 L592.81 171.90 L594.17 174.74 L595.46 177.62 L596.67 180.53 L597.81 183.49 L598.87 186.49 L599.86 189.52 L600.77 192.59 L601.61 195.69 L602.36 198.83 L603.04 202.00 L603.64 205.20 L604.16 208.44 L604.60 211.71 L604.96 215.01 L605.24 218.36 L605.44 221.76 L605.56 225.23Z" fill="url(#lb)"/>
<path d="M593.50 228.90 L593.46 232.20 L593.36 235.33 L593.17 238.39 L592.92 241.41 L592.60 244.39 L592.20 247.33 L591.73 250.24 L591.19 253.13 L590.58 255.98 L589.90 258.81 L589.15 261.60 L588.33 264.37 L587.44 267.10 L586.48 269.80 L585.46 272.46 L584.37 275.09 L583.20 277.68 L581.98 280.24 L580.69 282.76 L579.33 285.23 L577.91 287.67 L576.43 290.06 L574.88 292.41 L573.28 294.71 L571.61 296.97 L569.88 299.18 L568.10 301.34 L566.26 303.45 L564.36 305.50 L562.41 307.51 L560.40 309.46 L558.35 311.36 L556.24 313.20 L554.08 314.98 L551.87 316.71 L549.61 318.38 L547.31 319.98 L544.96 321.53 L542.57 323.01 L540.13 324.43 L537.66 325.79 L535.14 327.08 L532.58 328.30 L529.99 329.47 L527.36 330.56 L524.70 331.58 L522.00 332.54 L519.27 333.43 L516.50 334.25 L513.71 335.00 L510.88 335.68 L508.03 336.29 L505.14 336.83 L502.23 337.30 L499.29 337.70 L496.31 338.02 L493.29 338.27 L490.23 338.46 L487.10 338.56 L483.80 338.60 L480.50 338.56 L477.37 338.46 L474.31 338.27 L471.29 338.02 L468.31 337.70 L465.37 337.30 L462.46 336.83 L459.57 336.29 L456.72 335.68 L453.89 335.00 L451.10 334.25 L448.33 333.43 L445.60 332.54 L442.90 331.58 L440.24 330.56 L437.61 329.47 L435.02 328.30 L432.46 327.08 L429.94 325.79 L427.47 324.43 L425.03 323.01 L422.64 321.53 L420.29 319.98 L417.99 318.38 L415.73 316.71 L413.52 314.98 L411.36 313.20 L409.25 311.36 L407.20 309.46 L405.19 307.51 L403.24 305.50 L401.34 303.45 L399.50 301.34 L397.72 299.18 L395.99 296.97 L394.32 294.71 L392.72 292.41 L391.17 290.06 L389.69 287.67 L388.27 285.23 L386.91 282.76 L385.62 280.24 L384.40 277.68 L383.23 275.09 L382.14 272.46 L381.12 269.80 L380.16 267.10 L379.27 264.37 L378.45 261.60 L377.70 258.81 L377.02 255.98 L376.41 253.13 L375.87 250.24 L375.40 247.33 L375.00 244.39 L374.68 241.41 L374.43 238.39 L374.24 235.33 L374.14 232.20 L374.10 228.90 L374.14 225.60 L374.24 222.47 L374.43 219.41 L374.68 216.39 L375.00 213.41 L375.40 210.47 L375.87 207.56 L376.41 204.67 L377.02 201.82 L377.70 198.99 L378.45 196.20 L379.27 193.43 L380.16 190.70 L381.12 188.00 L382.14 185.34 L383.23 182.71 L384.40 180.12 L385.62 177.56 L386.91 175.04 L388.27 172.57 L389.69 170.13 L391.17 167.74 L392.72 165.39 L394.32 163.09 L395.99 160.83 L397.72 158.62 L399.50 156.46 L401.34 154.35 L403.24 152.30 L405.19 150.29 L407.20 148.34 L409.25 146.44 L411.36 144.60 L413.52 142.82 L415.73 141.09 L417.99 139.42 L420.29 137.82 L422.64 136.27 L425.03 134.79 L427.47 133.37 L429.94 132.01 L432.46 130.72 L435.02 129.50 L437.61 128.33 L440.24 127.24 L442.90 126.22 L445.60 125.26 L448.33 124.37 L451.10 123.55 L453.89 122.80 L456.72 122.12 L459.57 121.51 L462.46 120.97 L465.37 120.50 L468.31 120.10 L471.29 119.78 L474.31 119.53 L477.37 119.34 L480.50 119.24 L483.80 119.20 L487.10 119.24 L490.23 119.34 L493.29 119.53 L496.31 119.78 L499.29 120.10 L502.23 120.50 L505.14 120.97 L508.03 121.51 L510.88 122.12 L513.71 122.80 L516.50 123.55 L519.27 124.37 L522.00 125.26 L524.70 126.22 L527.36 127.24 L529.99 128.33 L532.58 129.50 L535.14 130.72 L537.66 132.01 L540.13 133.37 L542.57 134.79 L544.96 136.27 L547.31 137.82 L549.61 139.42 L551.87 141.09 L554.08 142.82 L556.24 144.60 L558.35 146.44 L560.40 148.34 L562.41 150.29 L564.36 152.30 L566.26 154.35 L568.10 156.46 L569.88 158.62 L571.61 160.83 L573.28 163.09 L574.88 165.39 L576.43 167.74 L577.91 170.13 L579.33 172.57 L580.69 175.04 L581.98 177.56 L583.20 180.12 L584.37 182.71 L585.46 185.34 L586.48 188.00 L587.44 190.70 L588.33 193.43 L589.15 196.20 L589.90 198.99 L590.58 201.82 L591.19 204.67 L591.73 207.56 L592.20 210.47 L592.60 213.41 L592.92 216.39 L593.17 219.41 L593.36 222.47 L593.46 225.60Z" fill="url(#gray)" stroke="#fff" stroke-width="0.9"/>

<!-- boxes -->
<g fill="#1b90e6" shape-rendering="crispEdges">
  <rect x="740.1" y="26" width="267.7" height="114" rx="23"/>
  <rect x="740.1" y="173" width="267.7" height="114" rx="23"/>
  <rect x="740.1" y="319" width="267.7" height="114" rx="23"/>
</g>
<g fill="#2ec48c" shape-rendering="crispEdges">
  <rect x="1120.3" y="26" width="267.2" height="114" rx="23"/>
  <rect x="1120.3" y="173" width="267.2" height="114" rx="23"/>
  <rect x="1120.3" y="319" width="267.2" height="114" rx="23"/>
</g>
<g fill="#fff">
  <rect x="756" y="42" width="236.3" height="82" rx="7.5"/>
  <rect x="756" y="189" width="236.3" height="82" rx="7.5"/>
  <rect x="756" y="335" width="236.3" height="82" rx="7.5"/>
  <rect x="1136.2" y="42" width="235.8" height="82" rx="7.5"/>
  <rect x="1136.2" y="189" width="235.8" height="82" rx="7.5"/>
  <rect x="1136.2" y="335" width="235.8" height="82" rx="7.5"/>
</g>

<!-- arrow diamonds -->
<g fill="#3d9cea" shape-rendering="crispEdges">
  <path d="M329.5 229 L339.5 219.5 L349.5 229 L339.5 238.5 Z"/>
  <path d="M727 83 L737 73.5 L747 83 L737 92.5 Z"/>
  <path d="M727 229.5 L737 220 L747 229.5 L737 239 Z"/>
  <path d="M727 376.5 L737 367 L747 376.5 L737 386 Z"/>
</g>
<g fill="#2ec48c" shape-rendering="crispEdges">
  <path d="M1108.8 83 L1118.8 73.2 L1128.8 83 L1118.8 92.8 Z"/>
  <path d="M1108.8 229.6 L1118.8 219.8 L1128.8 229.6 L1118.8 239.4 Z"/>
  <path d="M1108.8 376.1 L1118.8 366.3 L1128.8 376.1 L1118.8 385.9 Z"/>
</g>
<g fill="#000" shape-rendering="crispEdges">
  <rect x="334" y="218" width="1.8" height="22"/>
  <rect x="731.3" y="72" width="1.8" height="22"/>
  <rect x="731.3" y="218.5" width="1.8" height="22"/>
  <rect x="731.3" y="365.5" width="1.8" height="22"/>
  <rect x="1113.1" y="72" width="1.1" height="22"/>
  <rect x="1113.1" y="218.5" width="1.1" height="22"/>
  <rect x="1113.1" y="365" width="1.1" height="22"/>
</g>

<!-- logo -->
<g clip-path="url(#logoclip)">
  <rect x="74" y="56" width="80" height="80" fill="#4ea779"/>
  <path d="M70 98.8 H90 L121.7 66.3 C122.8 64.6 121.8 62.4 119.8 60.6 L116 56 H70 Z" fill="#0e653b"/>
  <path d="M134 93.6 H143.4 C146 93.6 148.5 95 151 97.5 V136 H108 L104 128.5 C103.2 127.2 102.8 125.8 102.8 124.5 Z" fill="#0e653b"/>
</g>
<path d="M121.8 66.2 L90 98.8 H106 C107.3 98.8 107.8 99.6 107.6 100.8 L102.8 124.6 L134.1 93.6 H119 C117.8 93.6 117.3 92.8 117.5 91.6 Z" fill="#fff"/>

<!-- people icon -->
<g fill="#fff">
  <g mask="url(#pmask)">
    <circle cx="101" cy="316.2" r="8.7"/>
    <circle cx="127.2" cy="316.2" r="8.7"/>
    <path d="M83.3 346 A17.7 18.6 0 0 1 118.7 346 V347.8 H83.3 Z"/>
    <path d="M109.5 346 A17.7 18.6 0 0 1 144.9 346 V347.8 H109.5 Z"/>
  </g>
  <circle cx="114.1" cy="314.7" r="11.6"/>
  <path d="M93.8 349 A20.3 20.2 0 0 1 134.4 349 V351 Q134.4 352.6 132.8 352.6 H95.4 Q93.8 352.6 93.8 351 Z"/>
</g>

<!-- handshake icon -->
<path d="M484.7 163.25 A42.15 42.15 0 1 1 484.69 163.25 Z" fill="none" stroke="url(#icb2)" stroke-width="4.7"/>
<g fill="url(#icb2)">
  <path fill-rule="evenodd" d="M453.9 189.5 H465.3 C465.6 193.5 466.2 196.5 468.3 197.8 C470 199 471.6 199.2 473.4 199.1 C476 198.9 478.5 197.8 481 196.2 L484 194.3 Q485.3 193.6 486.2 194.6 L502.6 213.3 A2.9 2.9 0 0 1 497.9 216.15 A2.9 2.9 0 0 1 493.25 219 A2.9 2.9 0 0 1 488.6 221.85 A2.9 2.9 0 0 1 483.9 224.7 C484.4 222.5 484 220.4 482.6 218.6 L475.8 211 C472.8 207.6 469.6 205.8 465.7 205.9 C462 206 459.5 208.2 457.2 210.1 H453.9 Z M456.8 193.6 A1.65 1.65 0 0 1 460.1 193.6 V205.2 A1.65 1.65 0 0 1 456.8 205.2 Z"/>
  <path fill-rule="evenodd" d="M470.5 192.9 C470.1 191.5 470.7 190.3 472 189.4 L479.5 184.6 C482 183.2 485 182.1 488.6 182.1 C494 182.1 500 184.5 507 188.3 L515 189.5 V210.5 H507.6 L488.2 189.4 Q487.2 188.3 485.6 188.9 L479 191.7 C476.5 192.8 475 193.7 473.4 194.6 C472.2 195.2 471 194.5 470.5 192.9 Z M508.4 193.6 A1.75 1.75 0 0 1 511.9 193.6 V206.4 A1.75 1.75 0 0 1 508.4 206.4 Z"/>
  <g><circle cx="463.6" cy="213" r="2.9"/><circle cx="467.8" cy="216" r="2.9"/><circle cx="472" cy="219" r="2.9"/><circle cx="476" cy="221.6" r="2.8"/>
  <path d="M464.6 212 L477.2 220.8" stroke="url(#icb2)" stroke-width="4.4" stroke-linecap="round"/></g>
  <rect x="462.9" y="230.8" width="42.6" height="4" rx="2"/>
</g>

<!-- texts -->
<g fill="#173d2d" stroke="#173d2d" stroke-width="0.85" font-size="22">
  <text x="65.2 89.1 113.9 139.4" y="168.8">小麦新能</text>
</g>
<g fill="#fff" stroke="#fff" stroke-width="0.6">
  <text x="68.6 92.5 116.7" y="384.5" font-size="23">合作方</text>
  <text transform="translate(145.2 387.6) scale(0.86 1)" font-size="24.5">X</text>
</g>
<text x="429.7 457.1 487.4 514.7" y="282.4" font-size="26" font-weight="bold" fill="#0d0d0d" stroke="#0d0d0d" stroke-width="0.15">合资公司</text>
<g fill="#1b1b1b" stroke="#1b1b1b" stroke-width="0.25" font-size="23">
  <text x="814.3 838.4 862.6 887.7" y="90.5">项目公司</text>
  <text x="814.3 838.4 862.6 887.7" y="237.5">项目公司</text>
  <text x="814.3 838.4 862.6 887.7" y="383.6">项目公司</text>
  <text x="1222 1245.8" y="90.6">电站</text>
  <text x="1222.2 1246" y="238.4">电站</text>
  <text x="1221.2 1245.1" y="383.6">电站</text>
</g>
<g fill="#1b1b1b" stroke="#1b1b1b" stroke-width="0.2" font-size="24">
  <text x="914.9" y="91.9">1</text>
  <text x="914.8" y="238.8">2</text>
  <text transform="translate(915.6 384.8) scale(0.8 1)" font-size="25">X</text>
  <text x="1273.7" y="91.9">1</text>
  <text x="1274.1" y="239.6">2</text>
  <text transform="translate(1273.5 384.8) scale(0.8 1)" font-size="25">X</text>
</g>
</svg>
</body></html>
